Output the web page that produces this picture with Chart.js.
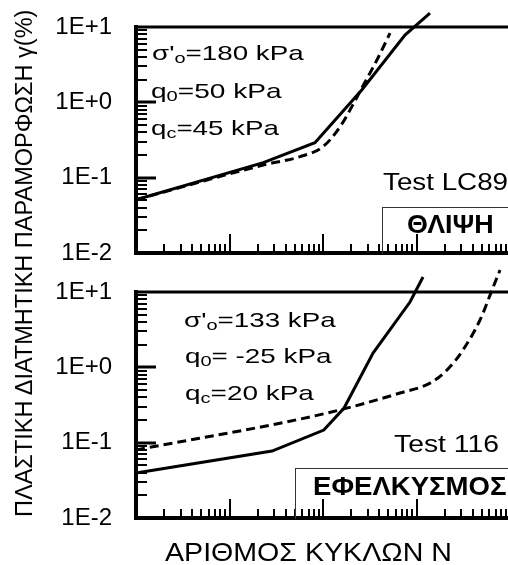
<!DOCTYPE html>
<html>
<head>
<meta charset="utf-8">
<script src="https://cdn.jsdelivr.net/npm/chart.js@4.4.1/dist/chart.umd.min.js"></script>
<style>
  html, body { margin: 0; padding: 0; background: #fff; overflow: hidden; }
  #wrap { position: relative; width: 508px; height: 565px; overflow: hidden;
          font-family: 'Liberation Sans', Arial, sans-serif; color: #000; }
  canvas { position: absolute; left: 0; }
  .t { position: absolute; white-space: nowrap; line-height: 1; transform-origin: 0 0; }
  .t sub { font-size: 0.72em; vertical-align: -0.22em; line-height: 0; }
  .box { position: absolute; border: 1px solid #333; border-right: none; border-bottom: none; }
</style>
</head>
<body>
<div id="wrap">
  <canvas id="topChart" width="520" height="270" style="top:0px"></canvas>
  <canvas id="bottomChart" width="520" height="303" style="top:262px"></canvas>
  <div class="box" style="left:382px; top:207px; width:200px; height:46px"></div>
  <div class="box" style="left:295px; top:468px; width:260px; height:50px"></div>
</div>
<script>
// --- data ---
// upper panel: compression (ΘΛΙΨΗ), Test LC89
const cyclesTopSolid  = [1, 23, 82, 261, 753, 1394];
const strainTopSolid  = [0.051, 0.158, 0.291, 1.47, 7.8, 15.3];
const cyclesTopDashed = [1, 24, 57, 100, 152, 261, 387, 521];
const strainTopDashed = [0.051, 0.149, 0.190, 0.258, 0.473, 1.56, 3.88, 8.3];

// lower panel: extension (ΕΦΕΛΚΥΣΜΟΣ), Test 116
const cyclesBotSolid  = [1, 28.5, 102, 168, 343, 852, 1174];
const strainBotSolid  = [0.0395, 0.0773, 0.147, 0.288, 1.55, 7.36, 15.8];
const cyclesBotDashed = [1, 110, 666, 1394, 2119, 3143, 4778, 6417, 7820];
const strainBotDashed = [0.080, 0.247, 0.456, 0.618, 0.92, 1.70, 4.25, 10.6, 19.6];

// axes
const yDecades    = [0.01, 0.1, 1, 10];
const yTickLabels = ['1E-2', '1E-1', '1E+0', '1E+1'];
const xRange      = [1, 10000];

const FONT = "'Liberation Sans', Arial, sans-serif";

function lineSet(xs, ys, dashed) {
    return {
        data: xs.map((x, i) => ({ x: x, y: ys[i] })),
        borderColor: '#000',
        borderWidth: 3,
        borderDash: dashed ? [9, 5] : [],
        pointRadius: 0,
        fill: false,
        clip: false,
        cubicInterpolationMode: dashed ? 'monotone' : 'default',
        tension: 0
    };
}

// top frame line + inward log ticks, placed with the chart's own scales
const framePlugin = {
    id: 'frame',
    beforeDatasetsDraw(chart) {
        const { ctx, chartArea: a, scales } = chart;
        const x = scales.x, y = scales.y;
        ctx.save();
        ctx.strokeStyle = '#000';
        ctx.lineWidth = 3;
        ctx.beginPath();
        ctx.moveTo(a.left, a.top);
        ctx.lineTo(chart.width, a.top);
        ctx.stroke();

        // y ticks (pointing right, into the plot)
        for (let e = -2; e <= 0; e++) {
            for (let m = 1; m <= 9; m++) {
                const py = Math.round(y.getPixelForValue(m * Math.pow(10, e)));
                ctx.lineWidth = m === 1 ? 3 : 2;
                ctx.beginPath();
                ctx.moveTo(a.left, py);
                ctx.lineTo(a.left + (m === 1 ? 20 : 11), py);
                ctx.stroke();
            }
        }
        // x ticks (pointing up, into the plot)
        for (let e = 0; e <= 3; e++) {
            for (let m = 1; m <= 9; m++) {
                const px = Math.round(x.getPixelForValue(m * Math.pow(10, e)));
                ctx.lineWidth = 2;
                ctx.beginPath();
                ctx.moveTo(px, a.bottom);
                ctx.lineTo(px, a.bottom - (m === 1 ? 19 : 9));
                ctx.stroke();
            }
        }
        ctx.restore();
    }
};

function makeChart(id, datasets, padTop, xHeight) {
    return new Chart(document.getElementById(id), {
        type: 'line',
        data: { datasets: datasets },
        options: {
            responsive: false,
            animation: false,
            layout: { padding: { top: padTop, right: 10, left: 0, bottom: 0 } },
            plugins: { legend: { display: false }, tooltip: { enabled: false } },
            scales: {
                x: {
                    type: 'logarithmic',
                    min: xRange[0],
                    max: xRange[1],
                    position: 'bottom',
                    ticks: { display: false },
                    grid: { drawOnChartArea: false, drawTicks: false },
                    border: { color: '#000', width: 4 },
                    afterFit: s => { s.height = xHeight; }
                },
                y: {
                    type: 'logarithmic',
                    min: yDecades[0],
                    max: yDecades[yDecades.length - 1],
                    position: 'left',
                    afterBuildTicks: s => { s.ticks = yDecades.map(v => ({ value: v })); },
                    ticks: {
                        callback: (v, i) => yTickLabels[i],
                        autoSkip: false,
                        color: '#000',
                        padding: 0,
                        font: { family: FONT, size: 24 }
                    },
                    // invisible outer ticks only serve to space the labels off the axis
                    grid: { drawOnChartArea: false, drawTicks: true, tickLength: 24,
                            tickColor: 'rgba(0,0,0,0)' },
                    border: { color: '#000', width: 4 },
                    afterFit: s => { s.width = 136; }
                }
            }
        },
        plugins: [framePlugin]
    });
}

makeChart('topChart', [
    lineSet(cyclesTopSolid, strainTopSolid, false),
    lineSet(cyclesTopDashed, strainTopDashed, true)
], 27, 17);

makeChart('bottomChart', [
    lineSet(cyclesBotSolid, strainBotSolid, false),
    lineSet(cyclesBotDashed, strainBotDashed, true)
], 30, 47);

// --- text overlays ---
const wrap = document.getElementById('wrap');

function addText(html, x, capTop, width, size, bold) {
    const el = document.createElement('div');
    el.className = 't';
    el.innerHTML = html;
    el.style.fontSize = size + 'px';
    if (bold) el.style.fontWeight = 'bold';
    el.style.left = x + 'px';
    el.style.top = (capTop - 0.13 * size) + 'px';
    wrap.appendChild(el);
    el.style.transform = 'scaleX(' + (width / el.offsetWidth) + ')';
    return el;
}

addText("σ'<sub>o</sub>=180 kPa", 152, 45, 152, 21);
addText('q<sub>0</sub>=50 kPa', 151, 83, 131, 21);
addText('q<sub>c</sub>=45 kPa', 151, 120, 128, 21);
addText('Test LC89', 383, 173, 125, 24);
addText('ΘΛΙΨΗ', 407, 215, 87, 25, true);

addText("σ'<sub>o</sub>=133 kPa", 184, 312, 152, 21);
addText('q<sub>0</sub>= -25 kPa', 185, 348, 147, 21);
addText('q<sub>c</sub>=20 kPa', 185, 385, 129, 21);
addText('Test 116', 394, 435, 105, 24);
addText('ΕΦΕΛΚΥΣΜΟΣ', 313, 477, 194, 25, true);

addText('ΑΡΙΘΜΟΣ ΚΥΚΛΩΝ Ν', 165, 543, 287, 25);

// vertical axis title, reading bottom to top
const yTitle = document.createElement('div');
yTitle.className = 't';
yTitle.textContent = 'ΠΛΑΣΤΙΚΗ ΔΙΑΤΜΗΤΙΚΗ ΠΑΡΑΜΟΡΦΩΣΗ γ(%)';
yTitle.style.fontSize = '23px';
yTitle.style.left = '0px';
yTitle.style.top = '0px';
wrap.appendChild(yTitle);
const ys = 507 / yTitle.offsetWidth;
yTitle.style.transform = 'translate(' + (16 - 0.13 * 23) + 'px, 517px) rotate(-90deg) scaleX(' + ys + ')';
</script>
</body>
</html>
